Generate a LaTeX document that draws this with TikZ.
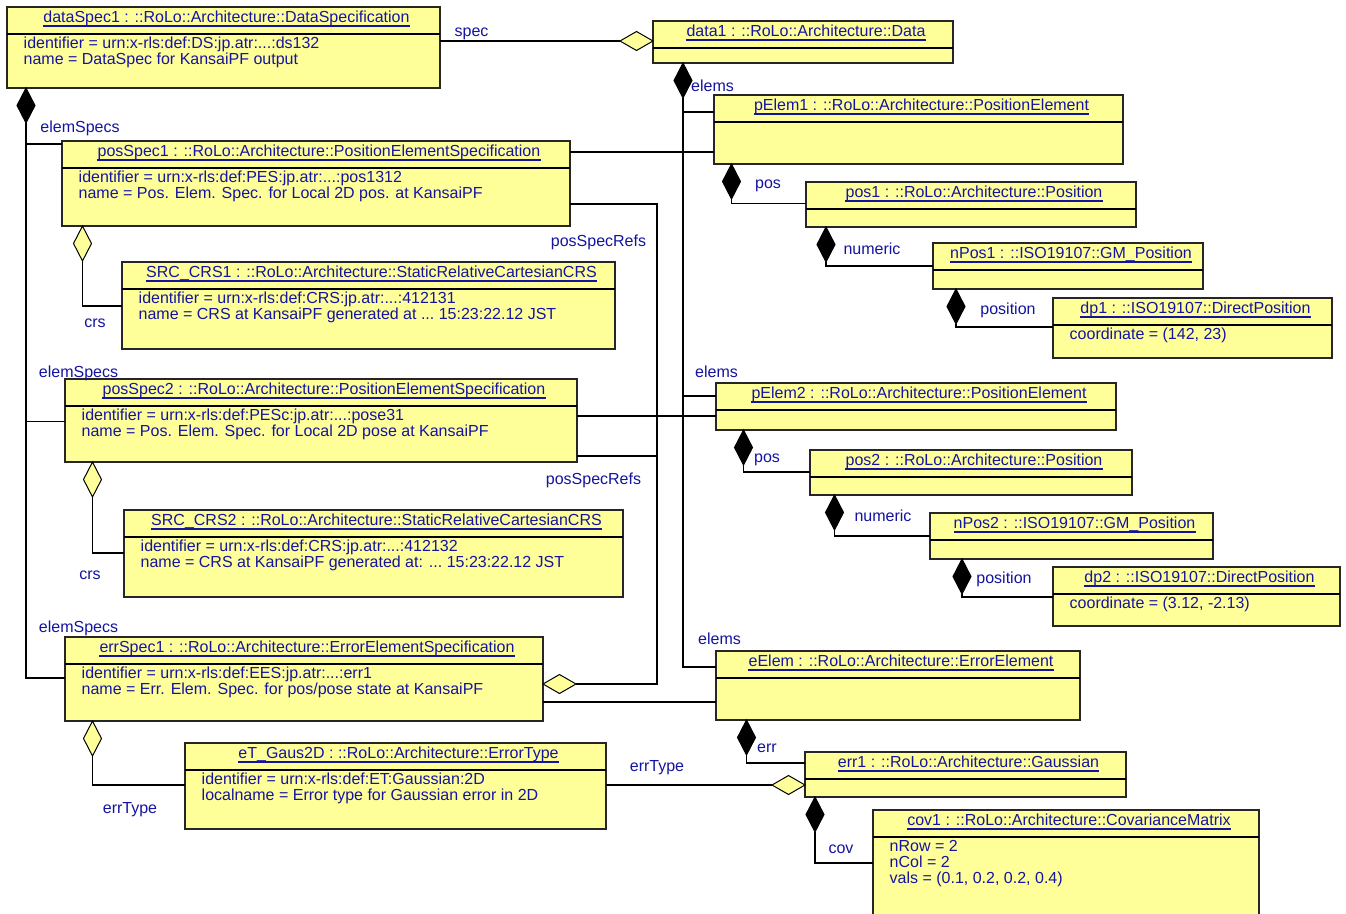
\documentclass[tikz,border=0pt]{standalone}
\usepackage{fontspec}
\setmainfont{Liberation Sans}
\usetikzlibrary{calc}
\definecolor{umlfill}{HTML}{FFFF99}
\definecolor{umltext}{RGB}{20,20,160}
\newcommand\threedots{.{}.{}.}
\tikzset{
  umlfont/.style={font=\fontsize{16}{16}\selectfont},
  objbox/.style={draw=black!85, line width=1.2pt, fill=umlfill, anchor=north west, inner sep=0pt, outer sep=0pt},
  sepline/.style={draw=black, line width=1.5pt},
  titletext/.style={umlfont, text=umltext, anchor=base, inner sep=0pt},
  attrtext/.style={umlfont, text=umltext, anchor=base west, inner sep=0pt},
  uline/.style={draw=umltext, line width=1.2pt},
  conn/.style={draw=black, line width=1.4pt},
  role/.style={umlfont, text=umltext, anchor=base, inner sep=0pt},
  vcomp/.pic={\path[draw=black, fill=black, line width=1pt] (0,0) -- (9,17.5) -- (0,35) -- (-9,17.5) -- cycle;},
  vagg/.pic={\path[draw=black, fill=umlfill, line width=1pt] (0,0) -- (9,17.5) -- (0,35) -- (-9,17.5) -- cycle;},
  hagg/.pic={\path[draw=black, fill=umlfill, line width=1pt] (0,0) -- (-16.5,-9.5) -- (-33,0) -- (-16.5,9.5) -- cycle;},
}
\newcommand\umlhead[6]{%
  \node[objbox, minimum width=#4pt, minimum height=#5pt] (#1) at (#2,#3) {};
  \draw[sepline] ($(#1.north west)+(0,27)$) -- ($(#1.north east)+(0,27)$);
  \node[titletext] (#1-t) at ($(#1.north)+(3,15.5)$) {#6};
  \draw[uline] ($(#1-t.base west)+(0,3.5)$) -- ($(#1-t.base east)+(0,3.5)$);
}
\newcommand\umlattrs[2]{%
  \foreach \attrline [count=\aidx] in {#2} {
    \node[attrtext] (#1-a\aidx) at ($(#1.north west)+(16.5,{25.5+16*\aidx})$) {\attrline};
  }
}
\begin{document}
\begin{tikzpicture}[x=1pt,y=-1pt]
\useasboundingbox (0,0) rectangle (1346,913);
\fill[white] (0,0) rectangle (1346,913);
\clip (0,0) rectangle (1346,913);

% ---------- objects ----------
\umlhead{dataSpec1}{7}{7}{433}{81}{dataSpec1 : ::RoLo::Architecture::DataSpecification}
\umlattrs{dataSpec1}{{identifier = urn:x-rls:def:DS:jp.atr:\threedots:ds132},{name = DataSpec for KansaiPF output}}

\umlhead{data1}{653}{21}{300}{42}{data1 : ::RoLo::Architecture::Data}

\umlhead{pElem1}{714}{95}{409}{69}{pElem1 : ::RoLo::Architecture::PositionElement}

\umlhead{posSpec1}{62}{141}{508}{85}{posSpec1 : ::RoLo::Architecture::PositionElementSpecification}
\umlattrs{posSpec1}{{identifier = urn:x-rls:def:PES:jp.atr:\threedots:pos1312},{name = Pos. Elem. Spec. for Local 2D pos. at KansaiPF}}

\umlhead{pos1}{806}{182}{330}{45}{pos1 : ::RoLo::Architecture::Position}

\umlhead{nPos1}{933}{243}{270}{46}{nPos1 : ::ISO19107::GM\_Position}

\umlhead{srcCRS1}{122}{262}{493}{87}{SRC\_CRS1 : ::RoLo::Architecture::StaticRelativeCartesianCRS}
\umlattrs{srcCRS1}{{identifier = urn:x-rls:def:CRS:jp.atr:\threedots:412131},{name = CRS at KansaiPF generated at \threedots\ 15:23:22.12 JST}}

\umlhead{dp1}{1053}{298}{279}{60}{dp1 : ::ISO19107::DirectPosition}
\umlattrs{dp1}{{coordinate = (142, 23)}}

\umlhead{posSpec2}{65}{379}{512}{83}{posSpec2 : ::RoLo::Architecture::PositionElementSpecification}
\umlattrs{posSpec2}{{identifier = urn:x-rls:def:PESc:jp.atr:\threedots:pose31},{name = Pos. Elem. Spec. for Local 2D pose at KansaiPF}}

\umlhead{pElem2}{716}{383}{400}{47}{pElem2 : ::RoLo::Architecture::PositionElement}

\umlhead{pos2}{810}{450}{322}{45}{pos2 : ::RoLo::Architecture::Position}

\umlhead{nPos2}{930}{513}{283}{46}{nPos2 : ::ISO19107::GM\_Position}

\umlhead{srcCRS2}{124}{510}{499}{87}{SRC\_CRS2 : ::RoLo::Architecture::StaticRelativeCartesianCRS}
\umlattrs{srcCRS2}{{identifier = urn:x-rls:def:CRS:jp.atr:\threedots:412132},{name = CRS at KansaiPF generated at: \threedots\ 15:23:22.12 JST}}

\umlhead{dp2}{1053}{567}{287}{59}{dp2 : ::ISO19107::DirectPosition}
\umlattrs{dp2}{{coordinate = (3.12, -2.13)}}

\umlhead{errSpec1}{65}{637}{478}{84}{errSpec1 : ::RoLo::Architecture::ErrorElementSpecification}
\umlattrs{errSpec1}{{identifier = urn:x-rls:def:EES:jp.atr:\threedots:err1},{name = Err. Elem. Spec. for pos/pose state at KansaiPF}}

\umlhead{eElem}{716}{651}{364}{69}{eElem : ::RoLo::Architecture::ErrorElement}

\umlhead{eTGaus}{185}{743}{421}{86}{eT\_Gaus2D : ::RoLo::Architecture::ErrorType}
\umlattrs{eTGaus}{{identifier = urn:x-rls:def:ET:Gaussian:2D},{localname = Error type for Gaussian error in 2D}}

\umlhead{err1}{805}{752}{321}{45}{err1 : ::RoLo::Architecture::Gaussian}

\umlhead{cov1}{873}{810}{386}{120}{cov1 : ::RoLo::Architecture::CovarianceMatrix}
\umlattrs{cov1}{{nRow = 2},{nCol = 2},{vals = (0.1, 0.2, 0.2, 0.4)}}

% ---------- connectors ----------
% spec
\coordinate (specR) at ($(data1.north west)+(0,20)$);
\draw[conn] (specR -| dataSpec1.east) -- ($(specR)+(-33,0)$);
\pic at (specR) {hagg};

% elemSpecs
\coordinate (esTop) at ($(dataSpec1.south west)+(19,0)$);
\coordinate (esErr) at ($(errSpec1.north west)+(0,41)$);
\draw[conn] ($(esTop)+(0,35)$) |- (esErr);
\coordinate (esPs1) at ($(posSpec1.north west)+(0,3)$);
\draw[conn] (esPs1) -- (esPs1 -| esTop);
\coordinate (esPs2) at ($(posSpec2.north west)+(0,42.5)$);
\draw[conn] (esPs2) -- (esPs2 -| esTop);
\pic at (esTop) {vcomp};

% elems
\coordinate (elTop) at ($(data1.south west)+(30,0)$);
\coordinate (elE) at ($(eElem.north west)+(0,16)$);
\draw[conn] ($(elTop)+(0,35)$) |- (elE);
\coordinate (elP1) at ($(pElem1.north west)+(0,17)$);
\draw[conn] (elP1) -- (elP1 -| elTop);
\coordinate (elP2) at ($(pElem2.north west)+(0,13)$);
\draw[conn] (elP2) -- (elP2 -| elTop);
\pic at (elTop) {vcomp};

% plain associations
\coordinate (as1) at ($(posSpec1.north east)+(0,11)$);
\draw[conn] (as1) -- (as1 -| pElem1.west);
\coordinate (as2) at ($(posSpec2.north east)+(0,37)$);
\draw[conn] (as2) -- (as2 -| pElem2.west);
\coordinate (as3) at ($(errSpec1.north east)+(0,65)$);
\draw[conn] (as3) -- (as3 -| eElem.west);

% posSpecRefs
\coordinate (psrD) at ($(errSpec1.north east)+(33,47)$);
\coordinate (psr1) at ($(posSpec1.north east)+(0,63)$);
\coordinate (psrC) at ($(psr1)+(87,0)$);
\draw[conn] (psrD) -| (psrC) -- (psr1);
\coordinate (psr2) at ($(posSpec2.north east)+(0,77)$);
\draw[conn] (psr2) -- (psr2 -| psrC);
\pic at (psrD) {hagg};

% pos (1)
\coordinate (p1T) at ($(pElem1.south west)+(17.5,0)$);
\draw[conn] ($(p1T)+(0,35)$) |- ($(pos1.north west)+(0,21.5)$);
\pic at (p1T) {vcomp};
% numeric (1)
\coordinate (n1T) at ($(pos1.south west)+(20,0)$);
\draw[conn] ($(n1T)+(0,35)$) |- ($(nPos1.north west)+(0,23)$);
\pic at (n1T) {vcomp};
% position (1)
\coordinate (d1T) at ($(nPos1.south west)+(23,0)$);
\draw[conn] ($(d1T)+(0,35)$) |- ($(dp1.north west)+(0,29)$);
\pic at (d1T) {vcomp};
% pos (2)
\coordinate (p2T) at ($(pElem2.south west)+(27.5,0)$);
\draw[conn] ($(p2T)+(0,35)$) |- ($(pos2.north west)+(0,22)$);
\pic at (p2T) {vcomp};
% numeric (2)
\coordinate (n2T) at ($(pos2.south west)+(24.5,0)$);
\draw[conn] ($(n2T)+(0,35)$) |- ($(nPos2.north west)+(0,23)$);
\pic at (n2T) {vcomp};
% position (2)
\coordinate (d2T) at ($(nPos2.south west)+(32,0)$);
\draw[conn] ($(d2T)+(0,35)$) |- ($(dp2.north west)+(0,30)$);
\pic at (d2T) {vcomp};
% err
\coordinate (erT) at ($(eElem.south west)+(30.5,0)$);
\draw[conn] ($(erT)+(0,35)$) |- ($(err1.north west)+(0,11)$);
\pic at (erT) {vcomp};
% cov
\coordinate (cvT) at ($(err1.south west)+(10,0)$);
\draw[conn] ($(cvT)+(0,35)$) |- ($(cov1.north west)+(0,53)$);
\pic at (cvT) {vcomp};
% errType (eT -> err1)
\coordinate (etR) at ($(err1.north west)+(0,33)$);
\draw[conn] (etR -| eTGaus.east) -- ($(etR)+(-33,0)$);
\pic at (etR) {hagg};
% crs (1)
\coordinate (c1T) at ($(posSpec1.south west)+(20.5,0)$);
\draw[conn] ($(c1T)+(0,35)$) |- ($(srcCRS1.north west)+(0,44)$);
\pic at (c1T) {vagg};
% crs (2)
\coordinate (c2T) at ($(posSpec2.south west)+(27.5,0)$);
\draw[conn] ($(c2T)+(0,35)$) |- ($(srcCRS2.north west)+(0,43)$);
\pic at (c2T) {vagg};
% errType (errSpec1 -> eT)
\coordinate (e2T) at ($(errSpec1.south west)+(27.5,0)$);
\draw[conn] ($(e2T)+(0,35)$) |- ($(eTGaus.north west)+(0,42)$);
\pic at (e2T) {vagg};

% ---------- role labels ----------
\node[role] (lspec) at (471.5,36) {spec};
\node[role] (les1) at (80,132) {elemSpecs};
\node[role] (les2) at (78.5,377) {elemSpecs};
\node[role] (les3) at (78.5,632) {elemSpecs};
\node[role] (lel1) at (712.5,91) {elems};
\node[role] (lel2) at (716.5,377) {elems};
\node[role] (lel3) at (719.5,644) {elems};
\node[role] (lpos1) at (768,188) {pos};
\node[role] (lpos2) at (767,462) {pos};
\node[role] (lnum1) at (872,254) {numeric};
\node[role] (lnum2) at (883,521) {numeric};
\node[role] (lpn1) at (1008,314) {position};
\node[role] (lpn2) at (1004,583) {position};
\node[role] (lpsr1) at (598.5,246) {posSpecRefs};
\node[role] (lpsr2) at (593.5,484) {posSpecRefs};
\node[role] (lcrs1) at (95,327) {crs};
\node[role] (lcrs2) at (90,579) {crs};
\node[role] (let1) at (130,813) {errType};
\node[role] (let2) at (657,771) {errType};
\node[role] (lerr) at (767,752) {err};
\node[role] (lcov) at (841,853) {cov};
\end{tikzpicture}
\end{document}
